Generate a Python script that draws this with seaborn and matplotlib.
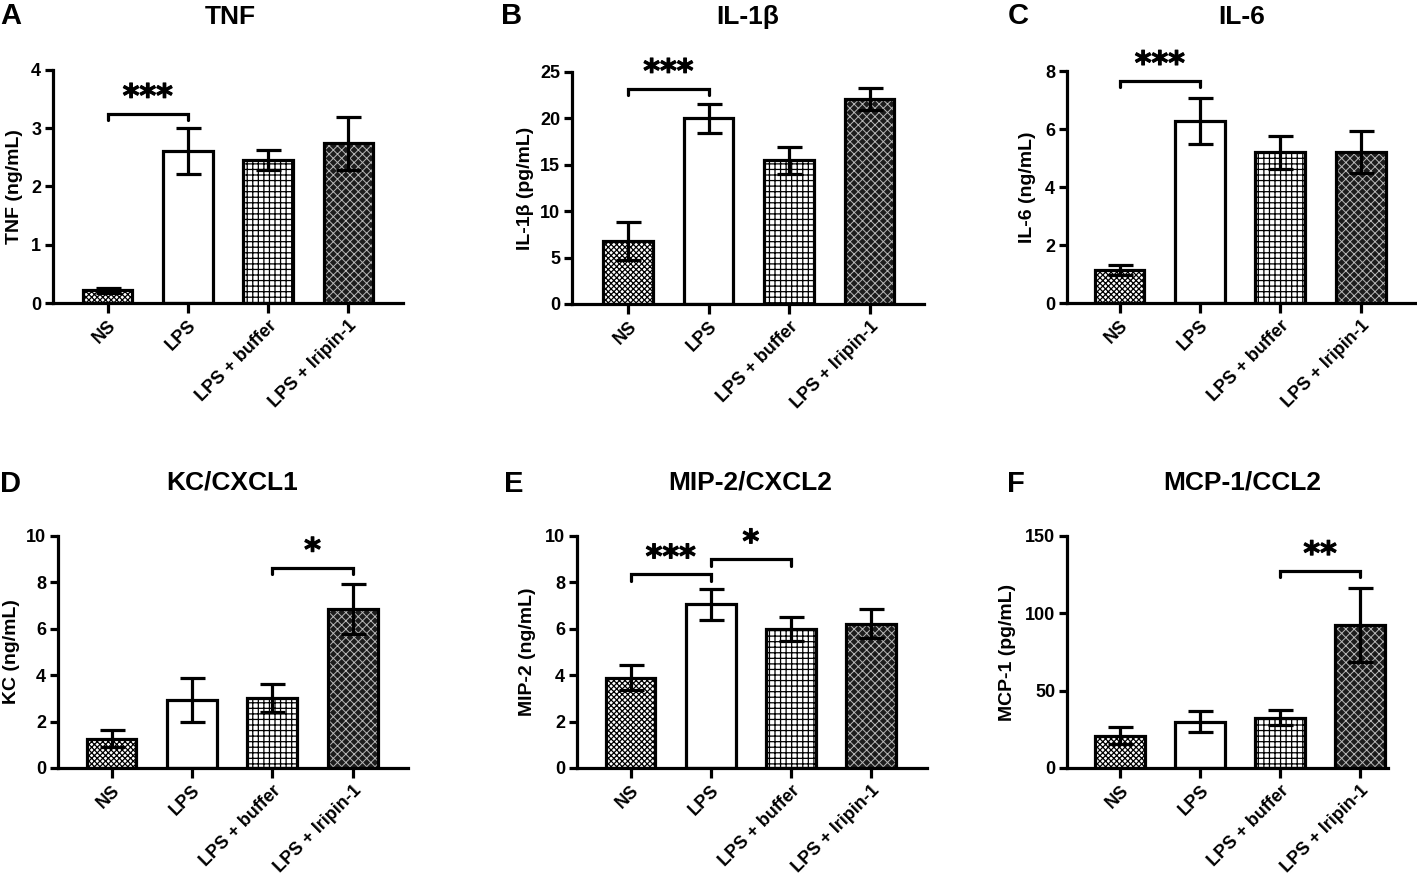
import matplotlib
matplotlib.use("Agg")
import matplotlib.pyplot as plt
import matplotlib.colors as mcolors
import matplotlib.patheffects as pe
import seaborn as sns
import pandas as pd

# ---------------- data ----------------
groups = ["NS", "LPS", "LPS + buffer", "LPS + Iripin-1"]

tnf_mean = [0.22, 2.61, 2.45, 2.74]
tnf_err = [0.04, 0.39, 0.17, 0.45]
il1b_mean = [6.8, 20.0, 15.5, 22.1]
il1b_err = [2.05, 1.6, 1.45, 1.2]
il6_mean = [1.15, 6.27, 5.2, 5.2]
il6_err = [0.17, 0.8, 0.57, 0.72]
kc_mean = [1.27, 2.92, 3.0, 6.85]
kc_err = [0.36, 0.95, 0.6, 1.07]
mip2_mean = [3.9, 7.06, 6.0, 6.22]
mip2_err = [0.52, 0.67, 0.52, 0.63]
mcp1_mean = [21.0, 30.0, 32.5, 92.5]
mcp1_err = [5.8, 6.7, 4.7, 24.0]

titles = ["TNF", "IL-1β", "IL-6", "KC/CXCL1", "MIP-2/CXCL2", "MCP-1/CCL2"]
letters = ["A", "B", "C", "D", "E", "F"]
ylabels = ["TNF (ng/mL)", "IL-1β (pg/mL)", "IL-6 (ng/mL)",
           "KC (ng/mL)", "MIP-2 (ng/mL)", "MCP-1 (pg/mL)"]
ymaxes = [4, 25, 8, 10, 10, 150]
ysteps = [1, 5, 2, 2, 2, 50]
means = [tnf_mean, il1b_mean, il6_mean, kc_mean, mip2_mean, mcp1_mean]
errs = [tnf_err, il1b_err, il6_err, kc_err, mip2_err, mcp1_err]

# significance brackets: (group i, group j, bracket height, label)
sig_tnf = [(0, 1, 3.25, "***")]
sig_il1b = [(0, 1, 23.2, "***")]
sig_il6 = [(0, 1, 7.66, "***")]
sig_kc = [(2, 3, 8.64, "*")]
sig_mip2 = [(0, 1, 8.35, "***"), (1, 2, 9.0, "*")]
sig_mcp1 = [(2, 3, 127.4, "**")]
sigs = [sig_tnf, sig_il1b, sig_il6, sig_kc, sig_mip2, sig_mcp1]

# ---------------- style ----------------
W, H = 1417, 876
DPI = 100
sns.set_theme(style="ticks")
plt.rcParams["font.family"] = ["Liberation Sans", "DejaVu Sans"]
plt.rcParams["font.weight"] = "bold"
plt.rcParams["hatch.linewidth"] = 0.9

face_colors = ["#ffffff", "#ffffff", "#ffffff", "#1c1c1c"]
hatches = ["xxxxxx", "", "+++", "xxxx"]
hatch_colors = ["#000000", "#000000", "#000000", "#b8b8b8"]
hatch_lws = [0.9, 0.9, 0.9, 0.7]

# layout in pixels: (axis left, axis right, top tick, zero line, first bar centre, bar spacing)
layout = [
    (53, 403, 70, 303, 107.5, 80.3),
    (572, 924, 72, 304, 628, 80.5),
    (1067, 1417, 71, 303, 1119.5, 80.4),
    (58, 408, 536, 768, 111.5, 80.4),
    (577, 927, 536, 768, 630.5, 80.2),
    (1067, 1388, 536, 768, 1120, 80.0),
]
ylabel_x = [15, 526, 1028, 12, 528, 1008]
title_pos = [(230, 17), (748, 17), (1242, 17), (232, 483), (750, 483), (1242, 483)]
letter_pos = [(0, 16), (501, 16), (1008, 16), (0, 484), (504, 484), (1007, 484)]

LW = 2.3

fig = plt.figure(figsize=(W / DPI, H / DPI), dpi=DPI)

for k in range(6):
    left, right, top, bottom, c0, s = layout[k]
    ax = fig.add_axes([left / W, 1 - bottom / H, (right - left) / W, (bottom - top) / H])
    df = pd.DataFrame({"group": groups, "value": means[k]})
    sns.barplot(data=df, x="group", y="value", hue="group", palette=face_colors,
                order=groups, hue_order=groups, legend=False, width=0.62,
                edgecolor="black", linewidth=LW, ax=ax, zorder=2)
    for p, fc, h, hc, hl in zip(ax.patches, face_colors, hatches, hatch_colors, hatch_lws):
        p.set_facecolor(fc)
        p.set_edgecolor("black")
        p.set_hatch(h)
        if hasattr(p, "set_hatchcolor"):
            p.set_hatchcolor(hc)
        else:
            p._hatch_color = mcolors.to_rgba(hc)
        if hasattr(p, "set_hatch_linewidth"):
            p.set_hatch_linewidth(hl)
    ax.errorbar(range(len(groups)), means[k], yerr=errs[k], fmt="none",
                ecolor="black", elinewidth=LW, capsize=9.0, capthick=LW, zorder=5)

    ymax = ymaxes[k]
    ax.set_ylim(0, ymax)
    ax.set_xlim(-(c0 - left) / s, (right - c0) / s)
    ax.set_yticks([i * ysteps[k] for i in range(int(ymax / ysteps[k]) + 1)])
    ax.set_xticks(range(len(groups)))
    ax.set_xticklabels(groups, rotation=45, ha="right", rotation_mode="anchor",
                       fontsize=13, fontweight="bold")
    for lab in ax.get_yticklabels():
        lab.set_fontweight("bold")
        lab.set_fontsize(13)
    ax.tick_params(axis="y", length=6, width=LW, pad=2.5, color="black", labelcolor="black")
    ax.tick_params(axis="x", length=7, width=LW, pad=3, color="black", labelcolor="black")
    ax.set_xlabel("")
    ax.set_ylabel(ylabels[k], fontsize=14, fontweight="bold", color="black", va="center")
    ax.yaxis.set_label_coords((ylabel_x[k] - left) / (right - left), 0.5)
    for side in ["top", "right"]:
        ax.spines[side].set_visible(False)
    for side in ["left", "bottom"]:
        ax.spines[side].set_linewidth(LW)
        ax.spines[side].set_color("black")
        ax.spines[side].set_capstyle("projecting")
    ax.set_facecolor("white")
    ax.grid(False)

    tip = 0.028 * ymax
    for (i, j, yb, lab) in sigs[k]:
        ax.plot([i, i, j, j], [yb - tip, yb, yb, yb - tip], color="black",
                lw=LW, solid_joinstyle="miter", clip_on=False, zorder=6)
        ax.annotate(lab, xy=((i + j) / 2, yb), xytext=(0, 0), textcoords="offset points",
                    ha="center", va="bottom", fontsize=23, fontweight="bold",
                    family="DejaVu Sans", annotation_clip=False, color="black",
                    path_effects=[pe.withStroke(linewidth=0.8, foreground="black")])

    tx, ty = title_pos[k]
    fig.text(tx / W, 1 - ty / H, titles[k], ha="center", va="center",
             fontsize=19, fontweight="bold", color="black")
    lx, ly = letter_pos[k]
    fig.text(lx / W, 1 - ly / H, letters[k], ha="left", va="center",
             fontsize=21, fontweight="bold", color="black")

fig.savefig("out.png", dpi=DPI, facecolor="white")
